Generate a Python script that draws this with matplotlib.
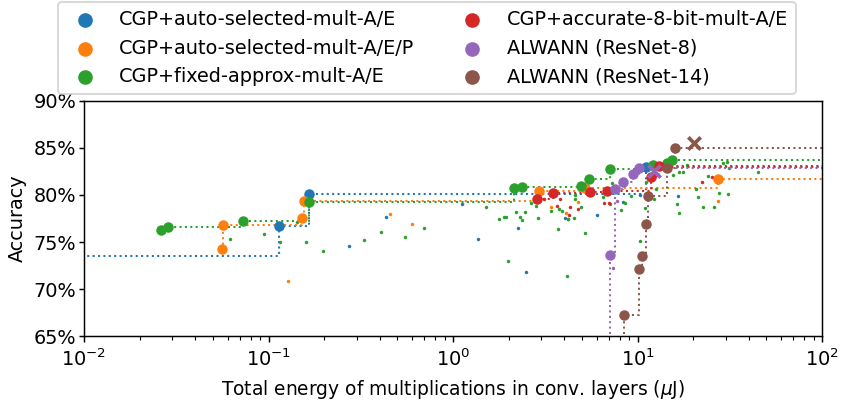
import numpy as np
import matplotlib
matplotlib.use("Agg")
import matplotlib.pyplot as plt
from matplotlib.ticker import PercentFormatter

# ---------------- data (energy in uJ, accuracy in %) ----------------
labels = ["CGP+auto-selected-mult-A/E", "CGP+auto-selected-mult-A/E/P",
          "CGP+fixed-approx-mult-A/E", "CGP+accurate-8-bit-mult-A/E",
          "ALWANN (ResNet-8)", "ALWANN (ResNet-14)"]
colors = ["tab:blue", "tab:orange", "tab:green", "tab:red", "tab:purple", "tab:brown"]

# Pareto fronts (large markers)
blue_front_x = [0.005, 0.114, 0.166, 11.1]
blue_front_y = [73.5, 76.73, 80.07, 83.01]
orange_front_x = [0.0562, 0.0569, 0.1524, 0.155, 2.914, 5.19, 27.2]
orange_front_y = [74.26, 76.81, 77.55, 79.36, 80.39, 80.78, 81.67]
green_front_x = [0.0262, 0.0286, 0.0730, 0.1658, 2.133, 2.357, 4.94, 5.46, 7.07, 12.18, 14.4, 15.44]
green_front_y = [76.28, 76.56, 77.23, 79.22, 80.74, 80.85, 80.93, 81.67, 82.80, 83.19, 83.37, 83.72]
red_front_x = [2.863, 3.47, 5.51, 6.81, 11.88, 13.03]
red_front_y = [79.57, 80.18, 80.32, 80.39, 81.91, 83.12]
purple_front_x = [6.5, 7.10, 7.52, 8.34, 9.49, 10.19]
purple_front_y = [50.0, 73.59, 80.61, 81.38, 82.27, 82.90]
brown_front_x = [7.5, 8.42, 10.23, 10.54, 11.08, 11.40, 14.54, 16.03]
brown_front_y = [50.0, 67.23, 72.10, 73.54, 76.91, 79.89, 82.87, 84.97]

# other (dominated) solutions (small dots)
blue_other_x = [0.273, 0.435, 1.123, 1.366, 2.487, 2.243, 4.06, 4.18, 6.03, 8.34, 10.32, 16.64]
blue_other_y = [74.61, 77.69, 79.04, 75.35, 71.78, 76.49, 77.59, 77.48, 77.90, 79.26, 80.0, 79.93]
orange_other_x = [0.128, 0.454, 0.597, 3.41, 4.11, 4.78, 27.4]
orange_other_y = [70.85, 77.95, 76.91, 78.69, 78.05, 79.22, 79.39]
green_other_x = [0.0621, 0.0942, 0.1154, 0.142, 0.159, 0.197, 0.328, 0.407, 0.547, 0.697,
                 1.504, 1.782, 1.889, 1.93, 1.987, 2.204, 2.457, 2.308, 2.357, 2.648,
                 2.818, 2.878, 3.41, 3.77, 3.90, 4.20, 4.53, 3.69, 4.13, 4.58,
                 4.58, 4.92, 5.19, 6.48, 7.10, 7.30, 8.14, 8.55, 9.22, 11.1,
                 11.02, 10.28, 12.33, 12.60, 16.31, 16.78, 15.63, 16.85, 17.71, 18.48,
                 20.76, 21.2, 22.6, 24.2, 26.1, 27.7, 31.1, 29.2, 30.4, 31.4, 45.2]
green_other_y = [75.29, 75.85, 75.0, 77.16, 75.0, 74.01, 75.18, 76.10, 75.53, 76.52,
                 78.72, 77.45, 77.69, 77.69, 72.95, 78.19, 78.19, 77.63, 77.34, 79.12,
                 78.83, 77.52, 78.33, 78.51, 78.30, 77.48, 77.59, 76.41, 71.41, 79.57,
                 79.97, 78.69, 75.99, 79.76, 79.04, 81.24, 78.40, 79.18, 79.89, 81.41,
                 78.59, 75.14, 79.57, 80.61, 79.07, 78.09, 82.13, 82.48, 82.48, 83.19,
                 80.61, 79.76, 78.76, 81.99, 78.69, 80.18, 80.14, 83.37, 83.54, 82.90, 82.41]
red_other_x = [3.80, 3.68, 4.32, 4.24, 4.76, 6.61, 7.04, 22.4, 25.3, 3.11]
red_other_y = [79.57, 78.86, 78.76, 77.84, 78.48, 79.18, 79.18, 81.38, 81.88, 79.57]
purple_other_x = [7.39, 7.72]
purple_other_y = [72.27, 79.36]
brown_other_x = []
brown_other_y = []

# original (non-CGP) ALWANN networks
purple_orig_x = [12.3]
purple_orig_y = [82.59]
brown_orig_x = [20.3]
brown_orig_y = [85.56]

fronts = [(blue_front_x, blue_front_y), (orange_front_x, orange_front_y),
          (green_front_x, green_front_y), (red_front_x, red_front_y),
          (purple_front_x, purple_front_y), (brown_front_x, brown_front_y)]
others = [(blue_other_x, blue_other_y), (orange_other_x, orange_other_y),
          (green_other_x, green_other_y), (red_other_x, red_other_y),
          (purple_other_x, purple_other_y), (brown_other_x, brown_other_y)]

# ---------------- figure ----------------
plt.rcParams["font.size"] = 10.4
DPI = 133
fig = plt.figure(figsize=(841 / DPI, 403 / DPI), dpi=DPI)
ax = fig.add_axes([84 / 841, 1 - 336 / 403, (822 - 84) / 841, (336 - 101) / 403])

XMAX_EXT = 1e3
handles = []
for i, (lab, c) in enumerate(zip(labels, colors)):
    ox, oy = others[i]
    fx, fy = fronts[i]
    if len(ox):
        ax.scatter(ox, oy, s=3.5, color=c, zorder=2 + i * 0.01, linewidths=0)
    ax.step(list(fx) + [XMAX_EXT], list(fy) + [fy[-1]], where="post",
            ls=":", lw=1.1, color=c, zorder=2 + i * 0.01)
    h = ax.scatter(fx, fy, s=32, color=c, zorder=3 + i * 0.01, linewidths=0, label=lab)
    handles.append(h)

ax.scatter(purple_orig_x, purple_orig_y, marker="x", s=45, color=colors[4], linewidths=2, zorder=4)
ax.scatter(brown_orig_x, brown_orig_y, marker="x", s=45, color=colors[5], linewidths=2, zorder=4)

ax.set_xscale("log")
ax.set_xlim(1e-2, 1e2)
ax.set_ylim(65, 90)
ax.set_yticks([65, 70, 75, 80, 85, 90])
ax.yaxis.set_major_formatter(PercentFormatter(decimals=0))
ax.tick_params(axis="y", length=2.7, pad=1.5)
ax.set_xlabel(r"Total energy of multiplications in conv. layers ($\mu$J)", fontsize=10.1)
ax.set_ylabel("Accuracy")
ax.yaxis.set_label_coords(-0.0776, 0.5)

fig.legend(handles=handles, labels=labels, ncol=2, loc="upper center",
           bbox_to_anchor=(0.5075, 0.994), borderaxespad=0, markerscale=1.4)

fig.savefig("out.png", dpi=DPI)
